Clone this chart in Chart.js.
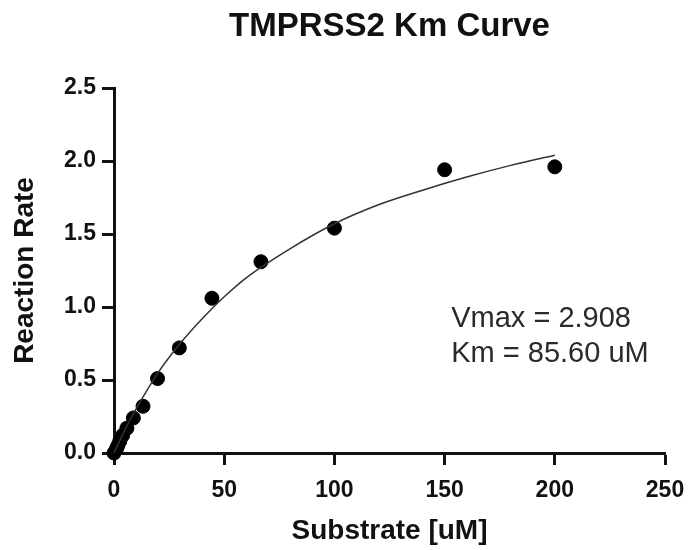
<!DOCTYPE html>
<html>
<head>
<meta charset="utf-8">
<script src="https://cdn.jsdelivr.net/npm/chart.js@4.4.0/dist/chart.umd.min.js"></script>
<style>
  html, body { margin: 0; padding: 0; background: #fff; }
  #wrap { width: 688px; height: 550px; }
</style>
</head>
<body>
<div id="wrap"><canvas id="km-chart"></canvas></div>
<script>
// measured points (substrate uM vs rate)
const substrate = [0, 1.16, 1.73, 2.6, 3.9, 5.85, 8.78, 13.17, 19.75, 29.63, 44.44, 66.67, 100, 150, 200];
const rate = [0, 0.03, 0.05, 0.08, 0.12, 0.17, 0.24, 0.32, 0.51, 0.72, 1.06, 1.31, 1.54, 1.94, 1.96];

// fitted curve
const fitX = [0, 5, 10, 20, 30, 40, 50, 60, 80, 100, 120, 140, 160, 180, 200];
const fitY = [0, 0.16, 0.30, 0.55, 0.75, 0.92, 1.07, 1.20, 1.40, 1.57, 1.70, 1.80, 1.89, 1.97, 2.04];

const xTicks = [0, 50, 100, 150, 200, 250];
const yTicks = [0, 0.5, 1.0, 1.5, 2.0, 2.5];

const chartTitle = 'TMPRSS2 Km Curve';
const fitText = ['Vmax = 2.908', 'Km = 85.60 uM'];

const tickFont = { family: 'Liberation Sans, Arial, sans-serif', size: 23, weight: 'bold' };
const titleFont = { family: 'Liberation Sans, Arial, sans-serif', size: 28, weight: 'bold' };

// title is centred over the plot area, not the canvas
const plotTitle = {
    id: 'plotTitle',
    afterDraw(chart) {
        const ctx = chart.ctx;
        const area = chart.chartArea;
        ctx.save();
        ctx.font = 'bold 33px "Liberation Sans", Arial, sans-serif';
        ctx.fillStyle = '#111';
        ctx.textAlign = 'center';
        ctx.textBaseline = 'alphabetic';
        ctx.fillText(chartTitle, (area.left + area.right) / 2, 36);
        ctx.restore();
    }
};

const fitLabel = {
    id: 'fitLabel',
    afterDatasetsDraw(chart) {
        const ctx = chart.ctx;
        const xs = chart.scales.x, ys = chart.scales.y;
        ctx.save();
        ctx.font = '29px "Liberation Sans", Arial, sans-serif';
        ctx.fillStyle = '#2a2a2a';
        ctx.textBaseline = 'alphabetic';
        ctx.textAlign = 'left';
        const left = xs.getPixelForValue(153);
        ctx.fillText(fitText[0], left, ys.getPixelForValue(0.863));
        ctx.fillText(fitText[1], left, ys.getPixelForValue(0.623));
        ctx.restore();
    }
};

new Chart(document.querySelector('#km-chart').getContext('2d'), {
    type: 'scatter',
    data: {
        datasets: [{
            label: 'fit',
            data: fitX.map((x, i) => ({ x: x, y: fitY[i] })),
            showLine: true,
            borderColor: '#333',
            borderWidth: 1.5,
            pointRadius: 0,
            cubicInterpolationMode: 'monotone',
            clip: false
        }, {
            label: 'data',
            data: substrate.map((x, i) => ({ x: x, y: rate[i] })),
            backgroundColor: '#000',
            borderColor: '#000',
            pointRadius: 7,
            pointHoverRadius: 7,
            clip: false
        }]
    },
    options: {
        responsive: true,
        maintainAspectRatio: false,
        animation: false,
        layout: { padding: { left: 0, right: 23, top: 88, bottom: 2 } },
        plugins: {
            legend: { display: false },
            tooltip: { enabled: false },
            title: { display: false }
        },
        scales: {
            x: {
                type: 'linear',
                min: 0,
                max: 250,
                afterFit: s => { s.height = 95; s.paddingLeft = 0; s.paddingRight = 0; },
                afterBuildTicks: s => { s.ticks = xTicks.map(v => ({ value: v })); },
                border: { display: true, width: 3, color: '#111' },
                grid: { drawOnChartArea: false, drawTicks: true, tickLength: 12, tickWidth: 3, tickColor: '#111' },
                ticks: { color: '#111', font: tickFont, padding: 12, maxRotation: 0 },
                title: { display: true, text: 'Substrate [uM]', color: '#111', font: titleFont, padding: { top: 0, bottom: 0 } }
            },
            y: {
                type: 'linear',
                min: 0,
                max: 2.5,
                afterFit: s => { s.width = 114; },
                afterBuildTicks: s => { s.ticks = yTicks.map(v => ({ value: v })); },
                border: { display: true, width: 3, color: '#111' },
                grid: { drawOnChartArea: false, drawTicks: true, tickLength: 12, tickWidth: 3, tickColor: '#111' },
                ticks: { color: '#111', font: tickFont, padding: 6, callback: v => v.toFixed(1) },
                title: { display: true, text: 'Reaction Rate', color: '#111', font: titleFont, padding: { top: 8, bottom: 0 } }
            }
        }
    },
    plugins: [plotTitle, fitLabel]
});
</script>
</body>
</html>
